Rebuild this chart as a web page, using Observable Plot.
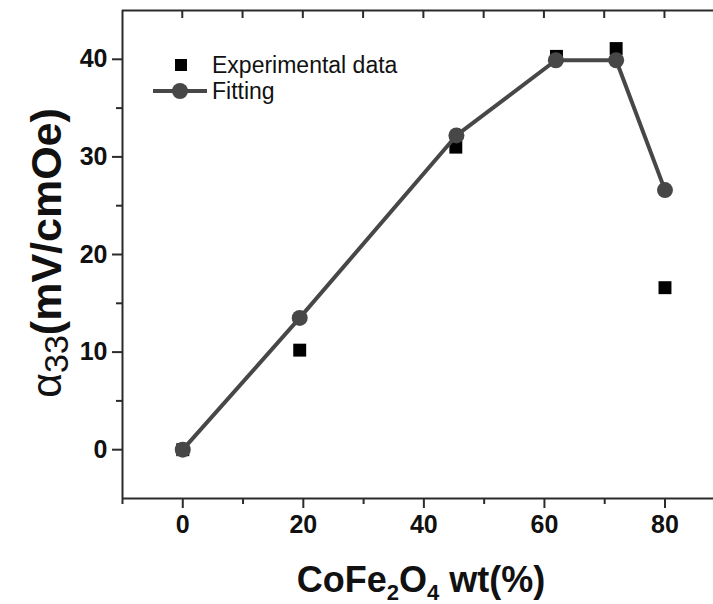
<!DOCTYPE html>
<html>
<head>
<meta charset="utf-8">
<script src="https://cdn.jsdelivr.net/npm/d3@7"></script>
<script src="https://cdn.jsdelivr.net/npm/@observablehq/plot@0.6"></script>
<style>
  html, body { margin: 0; padding: 0; background: #fff; }
  #chart { position: relative; width: 713px; height: 604px; overflow: hidden; }
  svg { font-family: "Liberation Sans", Arial, sans-serif; }
</style>
</head>
<body>
<div id="chart"></div>
<script>
// ---- data ----
const expX = [0, 19.4, 45.3, 62.0, 71.9, 80];
const expY = [0, 10.2, 31.0, 40.3, 41.1, 16.6];
const fitX = [0, 19.4, 45.4, 61.9, 71.9, 80];
const fitY = [0, 13.5, 32.2, 39.9, 39.9, 26.6];
const xMajorTicks = [0, 20, 40, 60, 80];
const xMinorTicks = [-10, 10, 30, 50, 70];
const xTopTicks = [0, 10, 20, 30, 40, 50, 60, 70, 80];
const yMajorTicks = [0, 10, 20, 30, 40];
const yMinorTicks = [5, 15, 25, 35];
const legendLabels = ["Experimental data", "Fitting"];

const exp = expX.map((x, i) => ({x, y: expY[i]}));
const fit = fitX.map((x, i) => ({x, y: fitY[i]}));

const axisColor = "#2b2b2b";
const lineColor = "#474747";
const noText = () => "";
const H = 604, MT = 10, MB = 106;
const yDomain = [-5, 45];

const plot = Plot.plot({
  width: 713,
  height: H,
  marginLeft: 122,
  marginRight: 0,
  marginTop: MT,
  marginBottom: MB,
  x: {domain: [-10, 88.05]},
  y: {domain: yDomain},
  style: {background: "#fff", color: axisColor},
  marks: [
    Plot.ruleX([-10], {stroke: axisColor, strokeWidth: 2}),
    Plot.ruleY([-5], {stroke: axisColor, strokeWidth: 2}),
    Plot.ruleY([45], {stroke: axisColor, strokeWidth: 2}),
    Plot.axisY({ticks: yMajorTicks, tickSize: 10, tickPadding: 5, label: null,
      fontSize: 25, fontWeight: "bold", stroke: axisColor, strokeWidth: 2, fill: "#111"}),
    Plot.axisY({ticks: yMinorTicks, tickSize: 6, label: null, tickFormat: noText,
      stroke: axisColor, strokeWidth: 2}),
    Plot.axisX({ticks: xMajorTicks, tickSize: 10, tickPadding: 7, label: null,
      fontSize: 25, fontWeight: "bold", stroke: axisColor, strokeWidth: 2, fill: "#111"}),
    Plot.axisX({ticks: xMinorTicks, tickSize: 6, label: null, tickFormat: noText,
      stroke: axisColor, strokeWidth: 2}),
    Plot.dot(exp, {x: "x", y: "y", symbol: "square", r: 7.3, fill: "#000", stroke: "none"}),
    Plot.line(fit, {x: "x", y: "y", stroke: lineColor, strokeWidth: 4}),
    Plot.dot(fit, {x: "x", y: "y", r: 8, fill: lineColor, stroke: "none"})
  ]
});

document.getElementById("chart").appendChild(plot);

const svg = d3.select(plot);
const xs = plot.scale("x");
const ys = plot.scale("y");

// Inward ticks on the top frame line, positioned with Plot's x scale
const topY = ys.apply(yDomain[1]);
svg.append("g").attr("stroke", axisColor).attr("stroke-width", 2)
  .selectAll("line").data(xTopTicks).join("line")
  .attr("x1", d => xs.apply(d)).attr("x2", d => xs.apply(d))
  .attr("y1", topY).attr("y2", topY + 8);

// Y axis label with subscript
const yl = svg.append("text")
  .attr("transform", "translate(61,253) rotate(-90)")
  .attr("text-anchor", "middle")
  .attr("fill", "#111")
  .style("font-size", "43px")
  .style("font-weight", "bold");
yl.append("tspan").style("font-weight", "normal").text("α");
yl.append("tspan").style("font-weight", "normal").style("font-size", "34px").attr("dy", "7").text("33");
yl.append("tspan").attr("dy", "-7").text("(mV/cmOe)");

// X axis label with subscripts
const xl = svg.append("text")
  .attr("x", 421).attr("y", 592)
  .attr("text-anchor", "middle")
  .attr("fill", "#111")
  .style("font-size", "36px")
  .style("font-weight", "bold");
xl.append("tspan").text("CoFe");
xl.append("tspan").style("font-size", "22px").attr("dy", "8").text("2");
xl.append("tspan").attr("dy", "-8").text("O");
xl.append("tspan").style("font-size", "22px").attr("dy", "8").text("4");
xl.append("tspan").attr("dy", "-8").text(" wt(%)");

// Legend
const lg = svg.append("g").attr("font-size", 23).attr("fill", "#111").attr("text-anchor", "start");
lg.append("rect").attr("x", 175).attr("y", 59).attr("width", 12).attr("height", 12).attr("fill", "#000");
lg.append("text").attr("x", 212).attr("y", 73).text(legendLabels[0]);
lg.append("line").attr("x1", 153).attr("x2", 207).attr("y1", 91).attr("y2", 91)
  .attr("stroke", lineColor).attr("stroke-width", 4);
lg.append("circle").attr("cx", 180).attr("cy", 91).attr("r", 8).attr("fill", lineColor);
lg.append("text").attr("x", 212).attr("y", 99).text(legendLabels[1]);
</script>
</body>
</html>
